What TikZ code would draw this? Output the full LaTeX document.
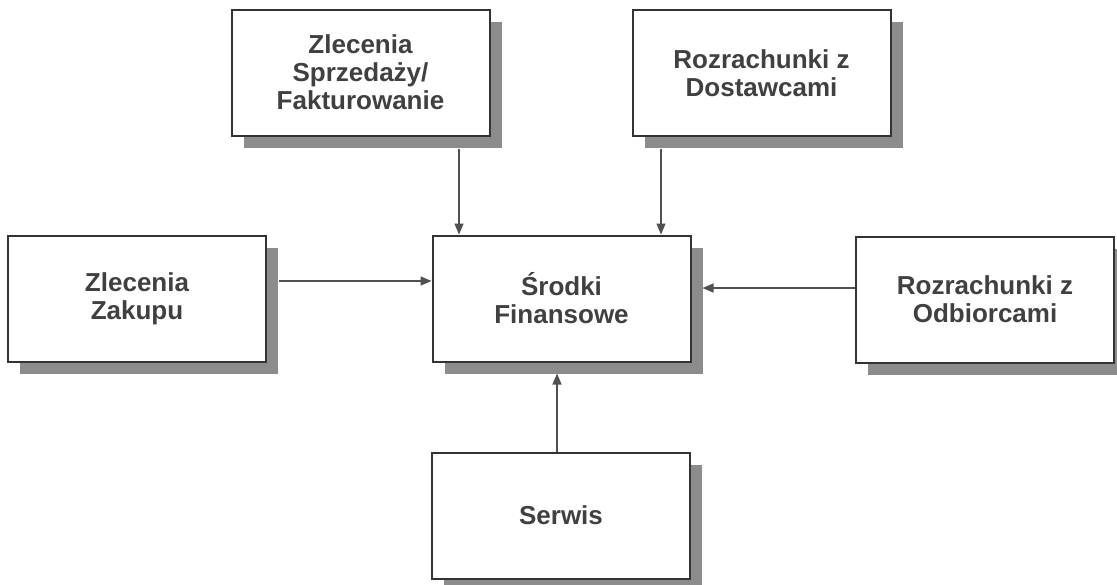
\documentclass[tikz,border=0pt]{standalone}
\usepackage{fontspec}
\setmainfont{Liberation Sans}
\usetikzlibrary{arrows.meta,shadows}
\definecolor{txt}{HTML}{404040}
\definecolor{edge}{HTML}{333333}
\definecolor{arr}{HTML}{505050}
\begin{document}
\begin{tikzpicture}[x=1pt,y=-1pt,
  box/.style={draw=edge,line width=2pt,fill=white,minimum width=258pt,minimum height=126pt,
    align=center,text=txt,font=\fontsize{26}{28}\selectfont\bfseries,inner sep=0pt,
    drop shadow={shadow xshift=12pt,shadow yshift=-12pt,fill=black!45,opacity=1,draw=none}},
  link/.style={draw=arr,line width=1.3pt,-{Triangle[length=11pt,width=9pt]}}]
\useasboundingbox (0,0) rectangle (1117,584);
\node[box] (zs) at (360.5,72.5) {Zlecenia\\Sprzedaży/\\Fakturowanie};
\node[box] (rd) at (761.5,73) {Rozrachunki z\\Dostawcami};
\node[box] (zz) at (137,298.5) {Zlecenia\\Zakupu};
\node[box] (sf) at (561.5,298.5) {Środki\\Finansowe};
\node[box] (ro) at (985,299.5) {Rozrachunki z\\Odbiorcami};
\node[box] (se) at (561,515.5) {Serwis};
\coordinate (zsout) at ([xshift=98.5pt,yshift=-12pt]zs.south);
\coordinate (rdout) at ([xshift=-100.5pt,yshift=-12pt]rd.south);
\coordinate (zzout) at ([xshift=12pt,yshift=17.5pt]zz.east);
\coordinate (roout) at ([yshift=11.5pt]ro.west);
\coordinate (seout) at ([xshift=-4pt]se.north);
\draw[link] (zsout) -- (zsout |- sf.north);
\draw[link] (rdout) -- (rdout |- sf.north);
\draw[link] (zzout) -- (sf.west |- zzout);
\draw[link] (roout) -- ([xshift=11pt]sf.east |- roout);
\draw[link] (seout) -- ([yshift=-11pt]seout |- sf.south);
\end{tikzpicture}
\end{document}
